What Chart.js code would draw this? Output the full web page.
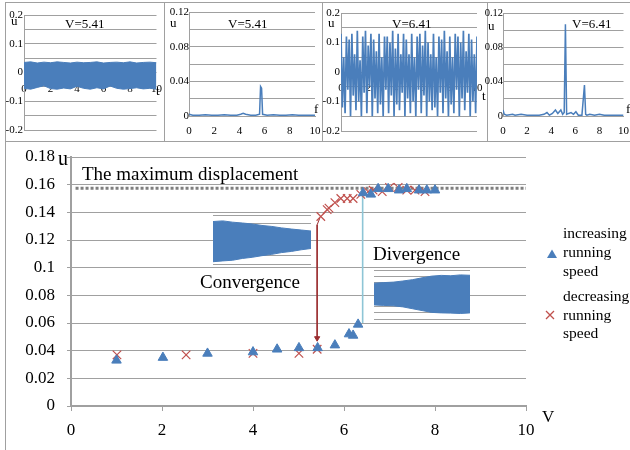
<!DOCTYPE html>
<html>
<head>
<meta charset="utf-8">
<script src="https://cdn.jsdelivr.net/npm/chart.js@4.4.0/dist/chart.umd.min.js"></script>
<style>
body { margin: 0; background: #fff; }
#wrap { position: relative; width: 630px; height: 450px; overflow: hidden; }
.box { position: absolute; }
.box canvas { display: block; }
.ln { position: absolute; background: #a0a0a0; }
</style>
</head>
<body>
<div id="wrap">
  <div class="ln" style="left:5px;top:2px;width:625px;height:1px"></div>
  <div class="ln" style="left:5px;top:141px;width:625px;height:1px"></div>
  <div class="ln" style="left:5px;top:2px;width:1px;height:448px"></div>
  <div class="ln" style="left:164px;top:2px;width:1px;height:139px"></div>
  <div class="ln" style="left:322px;top:2px;width:1px;height:139px"></div>
  <div class="ln" style="left:487px;top:2px;width:1px;height:139px"></div>

  <div class="box" style="left:6px;top:0;"><canvas id="p1" width="158" height="140"></canvas></div>
  <div class="box" style="left:165px;top:0;"><canvas id="p2" width="157" height="140"></canvas></div>
  <div class="box" style="left:322px;top:0;"><canvas id="p3" width="165" height="140"></canvas></div>
  <div class="box" style="left:485px;top:0;"><canvas id="p4" width="145" height="140"></canvas></div>

  <div class="box" style="left:0;top:143px;"><canvas id="main" width="630" height="307"></canvas></div>
  <div class="box" style="left:213px;top:213px;"><canvas id="conv" width="98" height="53"></canvas></div>
  <div class="box" style="left:374px;top:268px;"><canvas id="div" width="96" height="53"></canvas></div>
</div>
<script>
// ---- main chart: u vs running speed V ----
var incV = [1, 2.02, 3, 4, 4.53, 5.01, 5.42, 5.8, 6.11, 6.2, 6.31, 6.42, 6.59, 6.75, 6.97, 7.21, 7.38, 7.65, 7.82, 8.0];
var incU = [0.033, 0.035, 0.038, 0.039, 0.041, 0.042, 0.042, 0.044, 0.052, 0.051, 0.059, 0.154, 0.153, 0.157, 0.157, 0.156, 0.157, 0.156, 0.156, 0.156];
var decV = [1.01, 2.53, 4, 5.01, 5.41, 5.49, 5.63, 5.67, 5.8, 5.93, 6.07, 6.2, 6.37, 6.53, 6.64, 6.84, 7.0, 7.19, 7.38, 7.56, 7.78];
var decU = [0.037, 0.037, 0.038, 0.038, 0.041, 0.137, 0.142, 0.143, 0.147, 0.150, 0.150, 0.150, 0.153, 0.155, 0.156, 0.155, 0.158, 0.158, 0.156, 0.156, 0.155];
var maxDisp = 0.1575;
var jumpDownV = [5.47, 5.41, 5.41];
var jumpDownU = [0.136, 0.131, 0.049];
var jumpUpV = [6.41, 6.41];
var jumpUpU = [0.153, 0.06];
var vTicks = [0, 2, 4, 6, 8, 10];

// ---- inset envelopes (convergence / divergence time histories) ----
var convUp = [0.110, 0.114, 0.106, 0.101, 0.095, 0.086, 0.080, 0.071, 0.064, 0.058, 0.052];
var convLo = [-0.136, -0.131, -0.127, -0.116, -0.109, -0.099, -0.091, -0.080, -0.073, -0.063, -0.055];
var divUp = [0.092, 0.097, 0.101, 0.110, 0.121, 0.136, 0.150, 0.156, 0.153, 0.160, 0.157];
var divLo = [-0.085, -0.089, -0.092, -0.101, -0.116, -0.131, -0.146, -0.150, -0.152, -0.155, -0.150];

// ---- top panels ----
// V=5.41 time history envelope
var p1T = [0, 0.5, 1, 1.5, 2, 2.5, 3, 3.5, 4, 4.5, 5, 5.5, 6, 6.5, 7, 7.5, 8, 8.5, 9, 9.5, 10];
var p1Up = [0.035, 0.037, 0.033, 0.036, 0.034, 0.037, 0.035, 0.033, 0.036, 0.034, 0.035, 0.037, 0.033, 0.035, 0.036, 0.034, 0.037, 0.033, 0.035, 0.036, 0.034];
var p1Lo = [-0.055, -0.058, -0.052, -0.046, -0.056, -0.058, -0.054, -0.057, -0.048, -0.055, -0.058, -0.053, -0.057, -0.047, -0.055, -0.058, -0.056, -0.053, -0.057, -0.055, -0.058];
// V=5.41 spectrum
var p2F = [0, 0.3, 0.8, 1.3, 1.8, 2.3, 2.8, 3.3, 3.8, 4.1, 4.3, 4.5, 4.9, 5.3, 5.6, 5.68, 5.76, 5.84, 6.2, 6.7, 7.2, 7.7, 8.2, 8.7, 9.2, 9.7, 10];
var p2U = [0.002, 0.001, 0.001, 0.0015, 0.001, 0.001, 0.0015, 0.001, 0.001, 0.002, 0.003, 0.002, 0.001, 0.001, 0.002, 0.034, 0.032, 0.002, 0.001, 0.0015, 0.001, 0.001, 0.0015, 0.001, 0.001, 0.001, 0.001];
// V=6.41 time history, samples every 0.1 s
var p3U = [0.13, -0.12, 0.05, -0.14, 0.12, -0.06, 0.11, -0.15, 0.13, -0.08,
           0.06, -0.13, 0.14, -0.10, 0.04, -0.15, 0.12, -0.07, 0.14, -0.14,
           0.09, -0.05, 0.13, -0.15, 0.11, -0.09, 0.07, -0.14, 0.13, -0.11,
           0.05, -0.15, 0.12, -0.06, 0.12, -0.14, 0.10, -0.08, 0.14, -0.15,
           0.08, -0.11, 0.13, -0.13, 0.06, -0.07, 0.13, -0.15, 0.11, -0.09,
           0.06, -0.14, 0.13, -0.10, 0.05, -0.15, 0.12, -0.06, 0.13, -0.14,
           0.09, -0.08, 0.14, -0.15, 0.10, -0.10, 0.06, -0.13, 0.13, -0.12,
           0.05, -0.15, 0.12, -0.07, 0.11, -0.14, 0.14, -0.09, 0.07, -0.15,
           0.12, -0.11, 0.05, -0.14, 0.13, -0.06, 0.12, -0.15, 0.10, -0.09,
           0.14, -0.13, 0.07, -0.07, 0.13, -0.15, 0.11, -0.10, 0.06, -0.14, 0.12];
// V=6.41 spectrum
var p4F = [0, 0.1, 0.3, 0.8, 1.0, 1.5, 2.0, 2.5, 3.0, 3.4, 3.65, 3.85, 4.1, 4.35, 4.55, 4.8, 4.95, 5.08, 5.18, 5.28, 5.45, 5.65, 5.85, 6.05, 6.25, 6.55, 6.76, 6.86, 6.96, 7.2, 7.6, 8.0, 8.4, 8.8, 9.2, 9.6, 10];
var p4U = [0.007, 0.002, 0.001, 0.002, 0.001, 0.002, 0.001, 0.001, 0.001, 0.002, 0.004, 0.001, 0.003, 0.007, 0.003, 0.007, 0.002, 0.004, 0.107, 0.002, 0.003, 0.004, 0.002, 0.005, 0.001, 0.001, 0.036, 0.002, 0.001, 0.002, 0.001, 0.002, 0.001, 0.001, 0.001, 0.001, 0.001];

var blue = '#4a7ebb';
var red = '#c0504d';
var grey = '#a0a0a0';
var serif = '"Liberation Serif", "Times New Roman", serif';

function pts(xs, ys) {
  return xs.map(function(x, i) { return {x: x, y: ys[i]}; });
}

function num(v) {
  return String(Math.round(v * 100) / 100);
}

// fixed axis width, and no extra top/bottom padding from the tick labels
function fixWidth(w) {
  return function(s) {
    s.width = w;
    s.paddingTop = 0;
    s.paddingBottom = 0;
  };
}

// draws plain text labels at fixed canvas positions
function textPlugin(items) {
  return {
    id: 'texts',
    afterDraw: function(chart) {
      var ctx = chart.ctx;
      ctx.save();
      ctx.fillStyle = '#000';
      ctx.textBaseline = 'alphabetic';
      items.forEach(function(it) {
        ctx.font = it.size + 'px ' + serif;
        ctx.fillText(it.text, it.x, it.y);
      });
      ctx.restore();
    }
  };
}

var common = {
  responsive: false,
  animation: false,
  events: [],
  plugins: { legend: { display: false }, tooltip: { enabled: false } }
};

function timePanel(id, datasets, pad, axisW, labels) {
  return new Chart(document.getElementById(id), {
    type: 'line',
    data: { datasets: datasets },
    options: Object.assign({}, common, {
      layout: { padding: pad },
      scales: {
        x: {
          type: 'linear', min: 0, max: 10, position: { y: 0 }, z: 1,
          afterFit: function(s) { s.height = 0; },
          ticks: { stepSize: 2, font: { family: serif, size: 11 }, color: '#000', padding: 2, maxRotation: 0 },
          grid: { display: false }, border: { display: false }
        },
        y: {
          min: -0.2, max: 0.2,
          afterFit: fixWidth(axisW),
          ticks: { stepSize: 0.05, autoSkip: false, font: { family: serif, size: 11 }, color: '#000', padding: 1,
                   callback: function(v, i) { return i % 2 ? '' : num(v); } },
          grid: { color: grey, drawTicks: false }, border: { color: grey }
        }
      }
    }),
    plugins: [textPlugin(labels)]
  });
}

function specPanel(id, fs, us, pad, axisW, labelSize, labels) {
  return new Chart(document.getElementById(id), {
    type: 'line',
    data: { datasets: [{ data: pts(fs, us), borderColor: blue, borderWidth: 1.5, pointRadius: 0, tension: 0 }] },
    options: Object.assign({}, common, {
      layout: { padding: pad },
      scales: {
        x: {
          type: 'linear', min: 0, max: 10,
          afterFit: function(s) { s.height = 24; },
          ticks: { stepSize: 2, font: { family: serif, size: 11 }, color: '#000', padding: 1, maxRotation: 0 },
          grid: { display: false }, border: { color: grey }
        },
        y: {
          min: 0, max: 0.12,
          afterFit: fixWidth(axisW),
          ticks: { stepSize: 0.02, autoSkip: false, font: { family: serif, size: labelSize }, color: '#000', padding: 0,
                   callback: function(v, i) { return i % 2 ? '' : num(v); } },
          grid: { color: grey, drawTicks: false }, border: { color: grey }
        }
      }
    }),
    plugins: [textPlugin(labels)]
  });
}

var p3T = p3U.map(function(_, i) { return i / 10; });

timePanel('p1', [
  { data: pts(p1T, p1Up), borderColor: blue, backgroundColor: blue, borderWidth: 1, pointRadius: 0, fill: false },
  { data: pts(p1T, p1Lo), borderColor: blue, backgroundColor: blue, borderWidth: 1, pointRadius: 0, fill: '-1' }
], { left: 0, right: 7, top: 15, bottom: 10 }, 18, [
  { text: 'u', x: 5, y: 25, size: 13 },
  { text: 't', x: 150, y: 95, size: 13 },
  { text: 'V=5.41', x: 59, y: 28, size: 13 }
]);

specPanel('p2', p2F, p2U, { left: 0, right: 7, top: 12, bottom: 0 }, 24, 11, [
  { text: 'u', x: 5, y: 27, size: 13 },
  { text: 'f', x: 149, y: 113, size: 13 },
  { text: 'V=5.41', x: 63, y: 28, size: 13 }
]);

timePanel('p3', [
  { data: pts(p3T, p3U), borderColor: blue, borderWidth: 1.7, pointRadius: 0, tension: 0 }
], { left: 0, right: 10, top: 13, bottom: 9 }, 19, [
  { text: 'u', x: 6, y: 27, size: 13 },
  { text: 't', x: 160, y: 100, size: 13 },
  { text: 'V=6.41', x: 70, y: 28, size: 13 }
]);

specPanel('p4', p4F, p4U, { left: 0, right: 3, top: 13, bottom: 0 }, 18, 10.5, [
  { text: 'u', x: 3, y: 30, size: 13 },
  { text: 'f', x: 141, y: 113, size: 13 },
  { text: 'V=6.41', x: 87, y: 28, size: 13 }
]);

// legend drawn on the right of the main chart
var legendPlugin = {
  id: 'sideLegend',
  afterDraw: function(chart) {
    var ctx = chart.ctx;
    ctx.save();
    ctx.fillStyle = blue;
    ctx.beginPath();
    ctx.moveTo(552, 106.5);
    ctx.lineTo(557, 115);
    ctx.lineTo(547, 115);
    ctx.closePath();
    ctx.fill();
    ctx.strokeStyle = red;
    ctx.lineWidth = 1.3;
    ctx.beginPath();
    ctx.moveTo(546, 168); ctx.lineTo(554, 176);
    ctx.moveTo(554, 168); ctx.lineTo(546, 176);
    ctx.stroke();
    ctx.fillStyle = '#000';
    ctx.font = '15.5px ' + serif;
    ['increasing', 'running', 'speed'].forEach(function(t, i) { ctx.fillText(t, 563, 95 + i * 19); });
    ['decreasing', 'running', 'speed'].forEach(function(t, i) { ctx.fillText(t, 563, 158 + i * 18.5); });
    ctx.restore();
  }
};

new Chart(document.getElementById('main'), {
  type: 'scatter',
  data: {
    datasets: [
      { label: 'increasing running speed', data: pts(incV, incU), pointStyle: 'triangle', pointRadius: 5.5,
        backgroundColor: blue, borderColor: blue, borderWidth: 1 },
      { label: 'decreasing running speed', data: pts(decV, decU), pointStyle: 'crossRot', pointRadius: 6,
        borderColor: red, backgroundColor: red, borderWidth: 1.2 },
      { data: pts([0.1, 10], [maxDisp, maxDisp]), showLine: true, borderColor: '#7f7f7f', borderWidth: 3,
        borderDash: [3, 2], pointRadius: 0 },
      { data: pts(jumpDownV, jumpDownU), showLine: true, borderColor: '#9b2d30', borderWidth: 1,
        pointRadius: [0, 0, 3], pointStyle: 'triangle', rotation: 180, backgroundColor: '#9b2d30' },
      { data: pts(jumpUpV, jumpUpU), showLine: true, borderColor: '#8ec5d6', borderWidth: 1.6, pointRadius: 0 }
    ]
  },
  options: Object.assign({}, common, {
    layout: { padding: { left: 0, right: 104, top: 14, bottom: 0 } },
    scales: {
      x: {
        type: 'linear', min: 0, max: 10,
        afterFit: function(s) { s.height = 44; },
        afterBuildTicks: function(s) { s.ticks = vTicks.map(function(v) { return { value: v }; }); },
        ticks: { font: { family: serif, size: 17 }, color: '#000', padding: 9, maxRotation: 0 },
        grid: { drawOnChartArea: false, color: grey, tickLength: 5 },
        border: { color: grey, width: 2 }
      },
      y: {
        min: 0, max: 0.18,
        afterFit: fixWidth(71),
        ticks: { stepSize: 0.02, autoSkip: false, font: { family: serif, size: 17 }, color: '#000', padding: 12,
                 callback: function(v) { return num(v); } },
        grid: { color: grey, tickLength: 4 },
        border: { color: grey, width: 2 }
      }
    }
  }),
  plugins: [legendPlugin, textPlugin([
    { text: 'u', x: 58, y: 22, size: 20 },
    { text: 'V', x: 542, y: 279, size: 17 },
    { text: 'The maximum displacement', x: 82, y: 37, size: 19 },
    { text: 'Convergence', x: 200, y: 145, size: 19 },
    { text: 'Divergence', x: 373, y: 117, size: 19 }
  ])]
});

function inset(id, up, lo, yMax) {
  var xs = up.map(function(_, i) { return i / (up.length - 1); });
  return new Chart(document.getElementById(id), {
    type: 'line',
    data: { datasets: [
      { data: pts(xs, up), borderColor: blue, backgroundColor: blue, borderWidth: 1, pointRadius: 0, fill: false },
      { data: pts(xs, lo), borderColor: blue, backgroundColor: blue, borderWidth: 1, pointRadius: 0, fill: '-1' }
    ]},
    options: Object.assign({}, common, {
      layout: { padding: { left: 0, right: 0, top: 2, bottom: 2 } },
      scales: {
        x: { type: 'linear', min: 0, max: 1, display: false },
        y: {
          min: -yMax, max: yMax,
          afterFit: fixWidth(0),
          ticks: { display: false, stepSize: 0.05 },
          grid: { color: grey, drawTicks: false }, border: { display: false }
        }
      }
    })
  });
}

inset('conv', convUp, convLo, 0.15);
inset('div', divUp, divLo, 0.2);
</script>
</body>
</html>
